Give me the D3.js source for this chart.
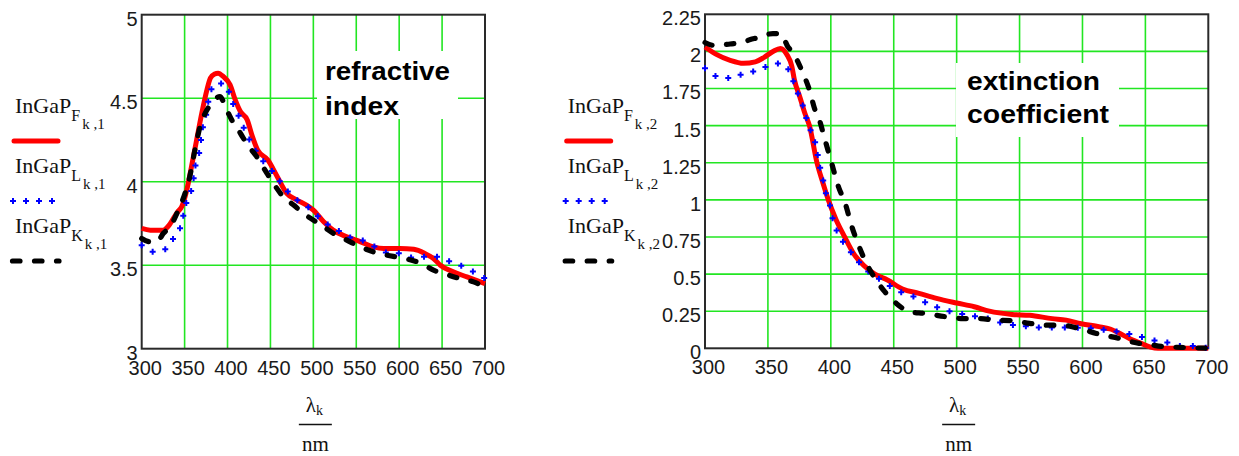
<!DOCTYPE html>
<html>
<head>
<meta charset="utf-8">
<script src="https://cdn.jsdelivr.net/npm/d3@7"></script>
<style>
  body { margin: 0; background: #fff; }
  svg { display: block; }
</style>
</head>
<body>
<svg id="chart" width="1239" height="456"></svg>
<script>
// Wavelength axis (nm) shared by both panels
const wavelengthTicks = [300, 350, 400, 450, 500, 550, 600, 650, 700];
const refractiveTicks = [3, 3.5, 4, 4.5, 5];
const extinctionTicks = [0, 0.25, 0.5, 0.75, 1, 1.25, 1.5, 1.75, 2, 2.25];

// Refractive index n(λ) of InGaP: [wavelength nm, n]
const refractiveF = [
  [300,3.72],[310,3.71],[325,3.71],[332,3.74],[337,3.78],[342,3.82],[346.6,3.85],[352.5,3.95],
  [358,4.09],[364,4.25],[370,4.41],[376,4.55],[380,4.62],[385,4.645],[389,4.65],[395,4.63],
  [403,4.58],[409,4.49],[415,4.42],[423,4.37],[429,4.27],[435,4.19],[447,4.13],[458,4.03],
  [469,3.93],[481,3.89],[492,3.86],[500,3.83],[512,3.76],[523,3.71],[539,3.67],[555,3.64],
  [570,3.61],[582,3.60],[601,3.60],[617,3.595],[630,3.57],[640,3.54],[648,3.50],[663,3.46],
  [679,3.43],[700,3.39]
];
const refractiveL = [
  [300,3.62],[313.6,3.58],[329,3.60],[339,3.68],[346.6,3.75],[349.7,3.83],[354.4,3.91],[359.5,3.98],
  [361.4,4.06],[364,4.13],[368,4.20],[370,4.29],[373,4.36],[376.6,4.44],[378.5,4.51],[387,4.59],
  [399,4.58],[403,4.51],[410,4.43],[416.6,4.35],[431,4.20],[442,4.12],[454,4.05],[467,3.96],
  [481,3.89],[496,3.84],[512,3.76],[525,3.72],[541,3.67],[556.5,3.65],[572,3.61],[586,3.575],
  [601,3.57],[616,3.545],[630,3.55],[645,3.55],[660,3.52],[675,3.49],[690,3.45],[700,3.42]
];
const refractiveK = [
  [300,3.66],[309.7,3.64],[318,3.64],[325,3.69],[333,3.73],[342.7,3.83],[350.5,3.93],[356,4.03],
  [362,4.19],[368,4.33],[374,4.41],[381.6,4.47],[391,4.51],[399,4.43],[407,4.35],[415,4.29],
  [422,4.23],[434,4.15],[446,4.05],[453.5,3.99],[465,3.91],[477,3.86],[488.5,3.81],[500,3.77],
  [512,3.73],[523.5,3.69],[539,3.65],[554.6,3.61],[570,3.58],[585.7,3.56],[601,3.545],[626,3.51],
  [640,3.47],[651.7,3.45],[671,3.42],[686.7,3.40],[700,3.37]
];

// Extinction coefficient k(λ) of InGaP: [wavelength nm, k]
const extinctionF = [
  [300,2.03],[309,1.98],[320,1.94],[330.5,1.92],[340,1.93],[347,1.96],[354,2.00],[360,2.02],
  [365,1.98],[369,1.90],[371,1.81],[375.5,1.69],[379.5,1.58],[383,1.5],[389,1.25],[393.5,1.12],
  [398,1.0],[404,0.87],[411,0.75],[418,0.64],[426,0.56],[435,0.5],[445,0.46],[457,0.40],
  [470,0.37],[484,0.336],[500,0.305],[514,0.28],[526,0.25],[544,0.228],[558,0.222],[576,0.20],
  [587,0.19],[599,0.165],[613,0.146],[622,0.13],[632,0.09],[640,0.055],[646,0.035],[654,0.008],
  [660,0],[700,0]
];
const extinctionL = [
  [300,1.886],[310,1.83],[320,1.82],[330.5,1.85],[340.5,1.87],[350,1.90],[360.5,1.92],[369,1.83],
  [372,1.75],[376.5,1.67],[379.5,1.58],[383,1.49],[388.3,1.36],[391,1.235],[393.6,1.145],[395.4,1.066],
  [399,0.977],[400.7,0.90],[404.3,0.80],[409.6,0.718],[416.7,0.64],[425.5,0.55],[438,0.47],[455.5,0.38],
  [466,0.347],[476.8,0.303],[496,0.246],[514,0.217],[524.7,0.20],[537,0.168],[546,0.156],[558,0.146],
  [567.8,0.14],[587.6,0.14],[609,0.134],[618,0.123],[628.7,0.111],[638,0.095],[648.6,0.073],[658.7,0.05],
  [668.5,0.037],[679,0.015],[688,0.015],[700,0]
];
const extinctionK = [
  [300,2.06],[307.5,2.04],[320,2.05],[330,2.06],[336,2.08],[341,2.09],[354,2.12],[360,2.12],
  [366,2.03],[370,1.99],[377,1.87],[383,1.74],[387.5,1.605],[390,1.56],[395.4,1.403],[400.7,1.246],
  [406,1.09],[411.4,0.977],[416.7,0.82],[422,0.695],[429,0.56],[436,0.46],[443,0.38],[452,0.303],
  [462.7,0.246],[475,0.235],[491,0.213],[505,0.20],[519,0.20],[530,0.19],[544,0.185],[558,0.168],
  [570.6,0.156],[583,0.156],[597,0.134],[611,0.10],[629,0.067],[645,0.033],[651,0.028],[664.5,0.011],
  [678,0.006],[700,0]
];

// Subscript names of the three data sets (F, L, K)
const datasetNames = ["F", "L", "K"];

const svg = d3.select("#chart");
const SANS = "'Liberation Sans', Arial, sans-serif";
const SERIF = "'Liberation Serif', 'Times New Roman', serif";
const GRID = "#22e622";

const styles = {
  F: { kind: "solid", color: "#ff0000", width: 5 },
  L: { kind: "cross", color: "#0000ff" },
  K: { kind: "dash", color: "#000000", width: 5.2, dash: "7.5,14.5" }
};

function drawCrosses(g, pts, color) {
  g.selectAll(null).data(pts).join("path")
    .attr("d", p => `M${p.x - 3},${p.y}h6M${p.x},${p.y - 3}v6`)
    .attr("stroke", color).attr("stroke-width", 2).attr("fill", "none");
}

function drawPanel(cfg) {
  const x = d3.scaleLinear().domain([300, 700]).range([cfg.left, cfg.right]);
  const y = d3.scaleLinear().domain(cfg.yDomain).range([cfg.bottom, cfg.top]);
  const g = svg.append("g");

  // grid
  g.append("g").selectAll("line").data(wavelengthTicks.slice(1, -1)).join("line")
    .attr("x1", d => x(d)).attr("x2", d => x(d))
    .attr("y1", cfg.top).attr("y2", cfg.bottom)
    .attr("stroke", GRID).attr("stroke-width", 1.6);
  g.append("g").selectAll("line").data(cfg.yTicks.slice(1, -1)).join("line")
    .attr("x1", cfg.left).attr("x2", cfg.right)
    .attr("y1", d => y(d)).attr("y2", d => y(d))
    .attr("stroke", GRID).attr("stroke-width", 1.6);

  // annotation with white backing
  g.append("rect")
    .attr("x", cfg.note.box[0]).attr("y", cfg.note.box[1])
    .attr("width", cfg.note.box[2]).attr("height", cfg.note.box[3])
    .attr("fill", "#fff");
  cfg.note.lines.forEach((t, i) => {
    g.append("text")
      .attr("x", cfg.note.x).attr("y", cfg.note.y + i * cfg.note.gap)
      .attr("font-family", SANS).attr("font-weight", "bold").attr("font-size", 25)
      .attr("textLength", cfg.note.lengths[i]).attr("lengthAdjust", "spacingAndGlyphs")
      .attr("fill", "#000").text(t);
  });

  // frame
  g.append("rect")
    .attr("x", cfg.left).attr("y", cfg.top)
    .attr("width", cfg.right - cfg.left).attr("height", cfg.bottom - cfg.top)
    .attr("fill", "none").attr("stroke", "#2a2a2a").attr("stroke-width", 2);

  // axes
  const fmt = d3.format("~g");
  const xAxis = g.append("g").attr("transform", `translate(0,${cfg.bottom})`)
    .call(d3.axisBottom(x).tickValues(wavelengthTicks).tickSize(0).tickPadding(12).tickFormat(fmt));
  const yAxis = g.append("g").attr("transform", `translate(${cfg.left},0)`)
    .call(d3.axisLeft(y).tickValues(cfg.yTicks).tickSize(0).tickPadding(4).tickFormat(fmt));
  [xAxis, yAxis].forEach(a => {
    a.select(".domain").remove();
    a.selectAll("text").attr("font-family", SANS).attr("font-size", 20).attr("fill", "#1a1a1a");
  });
  xAxis.selectAll("text").attr("dx", 3);
  yAxis.selectAll("text").attr("dy", "0.52em");

  // x axis title: λk / nm
  const cx = (cfg.left + cfg.right) / 2 + 2;
  const lam = g.append("text").attr("x", cx - 1).attr("y", 412)
    .attr("text-anchor", "middle").attr("font-family", SERIF).attr("font-size", 21).attr("fill", "#111");
  lam.append("tspan").text("λ");
  lam.append("tspan").attr("font-size", 14).attr("dy", 3).text("k");
  g.append("line").attr("x1", cx - 16.5).attr("x2", cx + 16.5)
    .attr("y1", 424.5).attr("y2", 424.5).attr("stroke", "#111").attr("stroke-width", 1.5);
  g.append("text").attr("x", cx).attr("y", 451)
    .attr("text-anchor", "middle").attr("font-family", SERIF).attr("font-size", 21).attr("fill", "#111")
    .text("nm");

  // curves
  const line = d3.line().x(d => x(d[0])).y(d => y(d[1])).curve(d3.curveMonotoneX);
  cfg.series.forEach((data, i) => {
    const s = styles[datasetNames[i]];
    const p = g.append("path").attr("d", line(data)).attr("fill", "none");
    if (s.kind === "solid") {
      p.attr("stroke", s.color).attr("stroke-width", s.width).attr("stroke-linejoin", "round");
    } else if (s.kind === "dash") {
      p.attr("stroke", s.color).attr("stroke-width", s.width)
        .attr("stroke-dasharray", s.dash).attr("stroke-linecap", "round");
    } else {
      const node = p.node();
      const len = node.getTotalLength();
      const pts = d3.range(0, len, 13).map(l => node.getPointAtLength(l));
      drawCrosses(g, pts, s.color);
    }
  });

  // legend
  datasetNames.forEach((name, i) => {
    const ty = 113 + i * 60;
    const t = g.append("text").attr("x", cfg.legendX).attr("y", ty)
      .attr("font-family", SERIF).attr("font-size", 22).attr("fill", "#111");
    t.append("tspan").text("InGaP");
    t.append("tspan").attr("font-size", 16).attr("dy", 8).text(name);
    t.append("tspan").attr("font-size", 15).attr("dy", 8).attr("dx", 2).text("k ," + cfg.column);

    const ly = ty + 28;
    const s = styles[name];
    const x0 = cfg.legendX - 3, x1 = cfg.legendX + 45;
    if (s.kind === "solid") {
      g.append("line").attr("x1", x0 + 2).attr("x2", x1 - 2).attr("y1", ly).attr("y2", ly)
        .attr("stroke", s.color).attr("stroke-width", s.width).attr("stroke-linecap", "round");
    } else if (s.kind === "dash") {
      g.append("line").attr("x1", x0 + 0.5).attr("x2", x1 - 1).attr("y1", ly).attr("y2", ly)
        .attr("stroke", s.color).attr("stroke-width", s.width)
        .attr("stroke-dasharray", s.dash).attr("stroke-linecap", "round");
    } else {
      const pts = d3.range(0, 4).map(k => ({ x: x0 + 1 + k * 13, y: ly }));
      drawCrosses(g, pts, s.color);
    }
  });
}

drawPanel({
  left: 141.7, right: 485, top: 14.7, bottom: 348.7,
  yDomain: [3, 5], yTicks: refractiveTicks,
  series: [refractiveF, refractiveL, refractiveK],
  column: "1", legendX: 15,
  note: { lines: ["refractive", "index"], lengths: [125, 74], x: 325, y: 80, gap: 35,
          box: [317, 51, 141, 68] }
});

drawPanel({
  left: 705, right: 1208.3, top: 14.3, bottom: 348.3,
  yDomain: [0, 2.25], yTicks: extinctionTicks,
  series: [extinctionF, extinctionL, extinctionK],
  column: "2", legendX: 567.7,
  note: { lines: ["extinction", "coefficient"], lengths: [133, 142], x: 967, y: 90, gap: 33,
          box: [956, 63, 163, 74] }
});
</script>
</body>
</html>
